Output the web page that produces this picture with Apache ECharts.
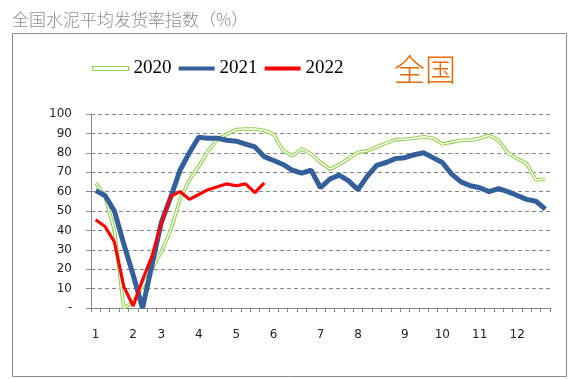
<!DOCTYPE html>
<html>
<head>
<meta charset="utf-8">
<script src="https://cdn.jsdelivr.net/npm/echarts@6/dist/echarts.min.js"></script>
<style>
html,body{margin:0;padding:0;background:#fff;}
#c{width:569px;height:379px;}
</style>
</head>
<body>
<div id="c"></div>
<script>
// Month tick labels placed at the week where each month begins (49 weekly points)
const monthLabels = ['1','','','','2','','','3','','','','4','','','','5','','','','6','','','','','7','','','','8','','','','','9','','','','10','','','','11','','','','12','','',''];
const weeks = monthLabels.map((_, i) => 'W' + (i + 1));

const values2020 = [64.5,57.5,40,0,3,11,20,29,40,56,66,73,81,87,89.5,92,92.3,92.3,91.5,89.5,81,78.5,82,79.5,75,71.5,74,77,80.3,81,83,85,86.8,87,87.5,88.3,87.5,84.5,85.5,86.5,86.5,87.5,89,86.5,80,77,74.5,66,66.5];
const values2021 = [60.5,58,50,33,17,0,22,44,57,71,80,88,87.5,87.5,86.5,86,84.5,83,78,76,74,71,69.5,71,62,66.5,68.5,65.5,61,68,73.5,75,77,77.5,79,80,77.5,75,69,65,63,62,60,61.5,60,58,56,55,51];
const values2022 = [45.5,42,34,11,1,14.5,26.5,43.5,57.5,60,56,58.5,61,62.5,64,63,64,59.5,64.5];

const yTicks = [0,10,20,30,40,50,60,70,80,90,100];

const GREEN = '#92D050', BLUE = '#33609A', RED = '#FF0000', GRAY = '#868686';

const chart = echarts.init(document.getElementById('c'), null, {renderer: 'canvas'});
chart.setOption({
  backgroundColor: '#fff',
  animation: false,
  title: {
    text: '全国水泥平均发货率指数（%）',
    left: 12, top: 11, padding: 0,
    textStyle: {fontFamily: 'Noto Sans CJK SC', fontSize: 17, fontWeight: 300, color: '#8c8c8c'}
  },
  legend: {
    left: 92, top: 59, padding: 0,
    itemWidth: 36, itemHeight: 4, itemGap: 7,
    icon: 'rect',
    textStyle: {fontFamily: 'Liberation Serif', fontSize: 19, color: '#000'},
    data: [
      {name: '2020', itemStyle: {color: '#fff', borderColor: GREEN, borderWidth: 1.2}},
      {name: '2021', itemStyle: {color: BLUE}},
      {name: '2022', itemStyle: {color: RED}}
    ]
  },
  graphic: [
    {type: 'rect', silent: true, z: -1,
     shape: {x: 12.5, y: 33.5, width: 554, height: 343},
     style: {fill: 'none', stroke: '#8c8c8c', lineWidth: 1}},
    {type: 'text', x: 394, y: 69,
     style: {text: '全国', font: '300 31px "Noto Sans CJK SC"', fill: '#E46C0A', textVerticalAlign: 'middle'}}
  ],
  grid: {left: 91, right: 19, top: 114, bottom: 71, containLabel: false},
  xAxis: {
    type: 'category',
    data: weeks,
    boundaryGap: true,
    axisLine: {lineStyle: {color: GRAY, width: 1}},
    axisTick: {show: true, interval: 0, length: 4, lineStyle: {color: GRAY}},
    axisLabel: {
      interval: 0, margin: 21,
      fontFamily: 'DejaVu Sans', fontSize: 12, color: '#222',
      formatter: (v, i) => monthLabels[i]
    },
    splitLine: {show: false}
  },
  yAxis: {
    type: 'value',
    min: yTicks[0], max: yTicks[yTicks.length - 1], interval: 10,
    axisLine: {show: true, lineStyle: {color: GRAY, width: 1}},
    axisTick: {show: true, length: 5, lineStyle: {color: GRAY}},
    axisLabel: {
      margin: 19, fontFamily: 'DejaVu Sans', fontSize: 12, color: '#222',
      formatter: v => (v === 0 ? '-' : String(v))
    },
    splitLine: {show: true, lineStyle: {color: GRAY, type: [4, 3], width: 1}}
  },
  series: [
    {name: '2020', type: 'line', data: values2020, showSymbol: false, symbol: 'none',
     lineStyle: {color: GREEN, width: 3.6}, itemStyle: {color: GREEN}},
    {name: '2020core', type: 'line', data: values2020, showSymbol: false, symbol: 'none', silent: true,
     lineStyle: {color: '#ffffff', width: 1.4}, itemStyle: {color: '#fff'}},
    {name: '2021', type: 'line', data: values2021, showSymbol: false, symbol: 'none',
     lineStyle: {color: BLUE, width: 5}, itemStyle: {color: BLUE}},
    {name: '2022', type: 'line', data: values2022, showSymbol: false, symbol: 'none',
     lineStyle: {color: RED, width: 3.2}, itemStyle: {color: RED}}
  ]
});
</script>
</body>
</html>
